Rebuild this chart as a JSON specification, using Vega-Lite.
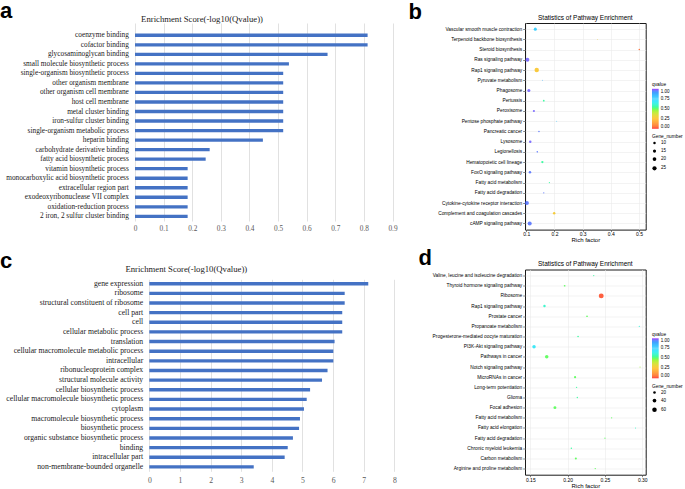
{
  "$schema": "https://vega.github.io/schema/vega-lite/v6.json",
  "padding": 0,
  "background": "white",
  "config": {
    "view": {"stroke": null},
    "axis": {"labelFlush": false, "labelBound": false},
    "legend": {"layout": {"right": {"anchor": "middle", "direction": "vertical", "margin": 5}}}
  },
  "columns": 2,
  "align": "none",
  "spacing": 10,
  "resolve": {"scale": {"color": "independent", "size": "independent"}, "legend": {"color": "independent", "size": "independent"}},
  "concat": [
    {
      "columns": 1,
      "align": "none",
      "spacing": 17.3,
      "concat": [
        {
          "title": {"text": "a", "anchor": "start", "frame": "bounds", "font": "Liberation Sans", "fontSize": 22, "fontWeight": "bold", "baseline": "top", "offset": -8.4, "color": "black"},
          "vconcat": [
            {
              "width": 257.5,
              "height": 198,
              "title": {"text": "Enrichment Score(-log10(Qvalue))", "font": "Liberation Serif", "fontSize": 8.7, "fontWeight": "normal", "color": "#222", "anchor": "middle", "frame": "group", "dx": -61.75, "offset": -9.35, "baseline": "bottom"},
              "data": {"values": [
                {"term": "coenzyme binding", "score": 0.813},
                {"term": "cofactor binding", "score": 0.813},
                {"term": "glycosaminoglycan binding", "score": 0.673},
                {"term": "small molecule biosynthetic process", "score": 0.538},
                {"term": "single-organism biosynthetic process", "score": 0.518},
                {"term": "other organism membrane", "score": 0.518},
                {"term": "other organism cell membrane", "score": 0.518},
                {"term": "host cell membrane", "score": 0.518},
                {"term": "metal cluster binding", "score": 0.518},
                {"term": "iron-sulfur cluster binding", "score": 0.518},
                {"term": "single-organism metabolic process", "score": 0.518},
                {"term": "heparin binding", "score": 0.447},
                {"term": "carbohydrate derivative binding", "score": 0.261},
                {"term": "fatty acid biosynthetic process", "score": 0.247},
                {"term": "vitamin biosynthetic process", "score": 0.184},
                {"term": "monocarboxylic acid biosynthetic process", "score": 0.184},
                {"term": "extracellular region part", "score": 0.184},
                {"term": "exodeoxyribonuclease VII complex", "score": 0.184},
                {"term": "oxidation-reduction process", "score": 0.184},
                {"term": "2 iron, 2 sulfur cluster binding", "score": 0.184}
              ]},
              "mark": {"type": "bar", "color": "#4472c4"},
              "encoding": {
                "y": {"field": "term", "type": "nominal", "sort": null,
                  "scale": {"paddingInner": 0.65, "paddingOuter": 0.713, "align": 0.78},
                  "axis": {"title": null, "ticks": false, "domain": false, "grid": false, "labelFont": "Liberation Serif", "labelFontSize": 7.3, "labelColor": "#1a1a1a", "labelPadding": 6.7, "minExtent": 135, "labelLimit": 0, "labelOverlap": false}},
                "x": {"field": "score", "type": "quantitative",
                  "scale": {"domain": [0, 0.9], "nice": false},
                  "axis": {"title": null, "values": [0, 0.1, 0.2, 0.3, 0.4, 0.5, 0.6, 0.7, 0.8, 0.9], "format": "~g", "ticks": false, "domain": false, "grid": true, "gridColor": "#d9d9d9", "gridWidth": 0.8, "labelFont": "Liberation Serif", "labelFontSize": 7.3, "labelColor": "#595959", "labelPadding": 3.6, "labelOverlap": false}}
              }
            }
          ]
        },
        {
          "title": {"text": "c", "anchor": "start", "frame": "bounds", "font": "Liberation Sans", "fontSize": 22, "fontWeight": "bold", "baseline": "top", "offset": -8.1, "color": "black"},
          "vconcat": [
            {
              "width": 259.3,
              "height": 192,
              "title": {"text": "Enrichment Score(-log10(Qvalue))", "font": "Liberation Serif", "fontSize": 8.7, "fontWeight": "normal", "color": "#222", "anchor": "middle", "frame": "group", "dx": -78.35, "offset": -3.05, "baseline": "bottom"},
              "data": {"values": [
                {"term": "gene expression", "score": 7.15},
                {"term": "ribosome", "score": 6.38},
                {"term": "structural constituent of ribosome", "score": 6.38},
                {"term": "cell part", "score": 6.3},
                {"term": "cell", "score": 6.3},
                {"term": "cellular metabolic process", "score": 6.3},
                {"term": "translation", "score": 6.05},
                {"term": "cellular macromolecule metabolic process", "score": 6.01},
                {"term": "intracellular", "score": 6.01},
                {"term": "ribonucleoprotein complex", "score": 5.82},
                {"term": "structural molecule activity", "score": 5.64},
                {"term": "cellular biosynthetic process", "score": 5.25},
                {"term": "cellular macromolecule biosynthetic process", "score": 5.14},
                {"term": "cytoplasm", "score": 5.05},
                {"term": "macromolecule biosynthetic process", "score": 4.92},
                {"term": "biosynthetic process", "score": 4.89},
                {"term": "organic substance biosynthetic process", "score": 4.69},
                {"term": "binding", "score": 4.52},
                {"term": "intracellular part", "score": 4.42},
                {"term": "non-membrane-bounded organelle", "score": 3.41}
              ]},
              "mark": {"type": "bar", "color": "#4472c4"},
              "encoding": {
                "y": {"field": "term", "type": "nominal", "sort": null,
                  "scale": {"paddingInner": 0.65, "paddingOuter": 0.28},
                  "axis": {"title": null, "ticks": false, "domain": false, "grid": false, "labelFont": "Liberation Serif", "labelFontSize": 7.7, "labelColor": "#1a1a1a", "labelPadding": -7.7, "minExtent": 135, "labelLimit": 0, "labelOverlap": false}},
                "x": {"field": "score", "type": "quantitative",
                  "scale": {"domain": [-0.467, 8], "nice": false, "zero": false},
                  "axis": {"title": null, "values": [0, 1, 2, 3, 4, 5, 6, 7, 8], "format": "d", "ticks": false, "domain": false, "grid": true, "gridColor": "#d9d9d9", "gridWidth": 0.8, "labelFont": "Liberation Serif", "labelFontSize": 7.7, "labelColor": "#595959", "labelPadding": 4.8, "labelOverlap": false}}
              }
            }
          ]
        }
      ]
    },
    {
      "columns": 1,
      "align": "none",
      "spacing": 2.5,
      "resolve": {"scale": {"color": "independent", "size": "independent"}, "legend": {"color": "independent", "size": "independent"}},
      "concat": [
        {
          "title": {"text": "b", "anchor": "start", "frame": "bounds", "font": "Liberation Sans", "fontSize": 22, "fontWeight": "bold", "baseline": "top", "offset": -9.9, "color": "black"},
          "resolve": {"scale": {"color": "independent", "size": "independent"}, "legend": {"color": "independent", "size": "independent"}},
          "vconcat": [
            {
              "width": 120.7,
              "height": 206.6,
              "view": {"stroke": "#1a1a1a", "strokeWidth": 1},
              "title": {"text": "Statistics of Pathway Enrichment", "font": "Liberation Sans", "fontSize": 6.5, "fontWeight": "normal", "color": "black", "anchor": "middle", "frame": "group", "offset": -4.35, "baseline": "bottom"},
              "data": {"values": [
                {"pathway": "Vascular smooth muscle contraction", "rich": 0.132, "qvalue": 0.78, "gene": 14},
                {"pathway": "Terpenoid backbone biosynthesis", "rich": 0.353, "qvalue": 0.3, "gene": 3},
                {"pathway": "Steroid biosynthesis", "rich": 0.501, "qvalue": 0.05, "gene": 5},
                {"pathway": "Ras signaling pathway", "rich": 0.104, "qvalue": 0.97, "gene": 22},
                {"pathway": "Rap1 signaling pathway", "rich": 0.137, "qvalue": 0.27, "gene": 28},
                {"pathway": "Pyruvate metabolism", "rich": 0.157, "qvalue": 0.85, "gene": 3},
                {"pathway": "Phagosome", "rich": 0.109, "qvalue": 0.97, "gene": 14},
                {"pathway": "Pertussis", "rich": 0.162, "qvalue": 0.55, "gene": 6},
                {"pathway": "Peroxisome", "rich": 0.127, "qvalue": 0.97, "gene": 8},
                {"pathway": "Pentose phosphate pathway", "rich": 0.208, "qvalue": 0.8, "gene": 3},
                {"pathway": "Pancreatic cancer", "rich": 0.145, "qvalue": 0.95, "gene": 5},
                {"pathway": "Lysosome", "rich": 0.114, "qvalue": 0.97, "gene": 10},
                {"pathway": "Legionellosis", "rich": 0.139, "qvalue": 0.95, "gene": 5},
                {"pathway": "Hematopoietic cell lineage", "rich": 0.157, "qvalue": 0.55, "gene": 9},
                {"pathway": "FoxO signaling pathway", "rich": 0.113, "qvalue": 0.95, "gene": 10},
                {"pathway": "Fatty acid metabolism", "rich": 0.182, "qvalue": 0.55, "gene": 4},
                {"pathway": "Fatty acid degradation", "rich": 0.162, "qvalue": 0.95, "gene": 4},
                {"pathway": "Cytokine-cytokine receptor interaction", "rich": 0.102, "qvalue": 0.95, "gene": 24},
                {"pathway": "Complement and coagulation cascades", "rich": 0.199, "qvalue": 0.28, "gene": 10},
                {"pathway": "cAMP signaling pathway", "rich": 0.112, "qvalue": 0.95, "gene": 24}
              ]},
              "mark": {"type": "circle", "opacity": 0.75},
              "encoding": {
                "y": {"field": "pathway", "type": "nominal", "sort": null,
                  "scale": {"type": "point", "padding": 0.6},
                  "axis": {"title": null, "grid": true, "gridColor": "#ebebeb", "gridWidth": 0.6, "domain": false, "tickSize": 2.3, "tickColor": "#333", "tickWidth": 0.6, "labelFont": "Liberation Sans", "labelFontSize": 4.8, "labelColor": "black", "labelPadding": 1, "minExtent": 116, "labelLimit": 0, "labelOverlap": false}},
                "x": {"field": "rich", "type": "quantitative",
                  "scale": {"domain": [0.0954, 0.5238], "nice": false, "zero": false},
                  "axis": {"title": "Rich factor", "values": [0.1, 0.2, 0.3, 0.4, 0.5], "format": ".1f", "grid": true, "gridColor": "#ebebeb", "gridWidth": 0.6, "domain": false, "tickSize": 2, "tickColor": "#333", "tickWidth": 0.6, "labelFont": "Liberation Sans", "labelFontSize": 5, "labelColor": "black", "labelPadding": 0.3, "titleFont": "Liberation Sans", "titleFontSize": 6, "titleFontWeight": "normal", "titleColor": "black", "titlePadding": 0}},
                "color": {"field": "qvalue", "type": "quantitative",
                  "scale": {"domain": [0, 0.25, 0.5, 0.75, 1], "range": ["#ff0000", "#ffb300", "#33ff33", "#33ccff", "#8000ff"]},
                  "legend": {"title": "qvalue", "titleFont": "Liberation Sans", "titleFontSize": 4.8, "titleFontWeight": "normal", "titleColor": "black", "titlePadding": 2, "labelFont": "Liberation Sans", "labelFontSize": 4.5, "labelColor": "black", "labelOffset": 2, "gradientLength": 40, "gradientThickness": 6.7, "values": [0, 0.25, 0.5, 0.75, 1], "format": ".2f", "offset": 6, "orient": "right"}},
                "size": {"field": "gene", "type": "quantitative",
                  "scale": {"domain": [3, 28], "range": [0.8, 20], "zero": false},
                  "legend": {"title": "Gene_number", "titleFont": "Liberation Sans", "titleFontSize": 4.8, "titleFontWeight": "normal", "titleColor": "black", "titlePadding": 2, "labelFont": "Liberation Sans", "labelFontSize": 4.5, "labelColor": "black", "values": [10, 15, 20, 25], "symbolFillColor": "black", "symbolStrokeWidth": 0, "symbolOpacity": 1, "symbolType": "circle", "rowPadding": 3, "offset": 6, "orient": "right"}}
              }
            }
          ]
        },
        {
          "title": {"text": "d", "anchor": "start", "frame": "bounds", "font": "Liberation Sans", "fontSize": 22, "fontWeight": "bold", "baseline": "top", "offset": -9.9, "dx": 10, "color": "black"},
          "resolve": {"scale": {"color": "independent", "size": "independent"}, "legend": {"color": "independent", "size": "independent"}},
          "vconcat": [
            {
              "width": 120.7,
              "height": 205.2,
              "view": {"stroke": "#1a1a1a", "strokeWidth": 1},
              "title": {"text": "Statistics of Pathway Enrichment", "font": "Liberation Sans", "fontSize": 6.5, "fontWeight": "normal", "color": "black", "anchor": "middle", "frame": "group", "offset": -3.75, "baseline": "bottom"},
              "data": {"values": [
                {"pathway": "Valine, leucine and isoleucine degradation", "rich": 0.235, "qvalue": 0.55, "gene": 5},
                {"pathway": "Thyroid hormone signaling pathway", "rich": 0.196, "qvalue": 0.5, "gene": 9},
                {"pathway": "Ribosome", "rich": 0.245, "qvalue": 0.02, "gene": 70},
                {"pathway": "Rap1 signaling pathway", "rich": 0.169, "qvalue": 0.6, "gene": 18},
                {"pathway": "Prostate cancer", "rich": 0.226, "qvalue": 0.5, "gene": 9},
                {"pathway": "Propanoate metabolism", "rich": 0.296, "qvalue": 0.62, "gene": 4},
                {"pathway": "Progesterone-mediated oocyte maturation", "rich": 0.214, "qvalue": 0.55, "gene": 8},
                {"pathway": "PI3K-Akt signaling pathway", "rich": 0.155, "qvalue": 0.68, "gene": 35},
                {"pathway": "Pathways in cancer", "rich": 0.172, "qvalue": 0.5, "gene": 36},
                {"pathway": "Notch signaling pathway", "rich": 0.297, "qvalue": 0.45, "gene": 4},
                {"pathway": "MicroRNAs in cancer", "rich": 0.21, "qvalue": 0.5, "gene": 14},
                {"pathway": "Long-term potentiation", "rich": 0.212, "qvalue": 0.55, "gene": 6},
                {"pathway": "Glioma", "rich": 0.213, "qvalue": 0.55, "gene": 6},
                {"pathway": "Focal adhesion", "rich": 0.183, "qvalue": 0.5, "gene": 25},
                {"pathway": "Fatty acid metabolism", "rich": 0.259, "qvalue": 0.5, "gene": 5},
                {"pathway": "Fatty acid elongation", "rich": 0.291, "qvalue": 0.6, "gene": 4},
                {"pathway": "Fatty acid degradation", "rich": 0.25, "qvalue": 0.5, "gene": 5},
                {"pathway": "Chronic myeloid leukemia", "rich": 0.205, "qvalue": 0.55, "gene": 7},
                {"pathway": "Carbon metabolism", "rich": 0.211, "qvalue": 0.5, "gene": 13},
                {"pathway": "Arginine and proline metabolism", "rich": 0.237, "qvalue": 0.5, "gene": 6}
              ]},
              "mark": {"type": "circle", "opacity": 0.75},
              "encoding": {
                "y": {"field": "pathway", "type": "nominal", "sort": null,
                  "scale": {"type": "point", "padding": 0.6},
                  "axis": {"title": null, "grid": true, "gridColor": "#ebebeb", "gridWidth": 0.6, "domain": false, "tickSize": 2.3, "tickColor": "#333", "tickWidth": 0.6, "labelFont": "Liberation Sans", "labelFontSize": 4.8, "labelColor": "black", "labelPadding": 1, "minExtent": 116, "labelLimit": 0, "labelOverlap": false}},
                "x": {"field": "rich", "type": "quantitative",
                  "scale": {"domain": [0.1429, 0.3046], "nice": false, "zero": false},
                  "axis": {"title": "Rich factor", "values": [0.15, 0.2, 0.25, 0.3], "format": ".2f", "grid": true, "gridColor": "#ebebeb", "gridWidth": 0.6, "domain": false, "tickSize": 2, "tickColor": "#333", "tickWidth": 0.6, "labelFont": "Liberation Sans", "labelFontSize": 5, "labelColor": "black", "labelPadding": 0.5, "titleFont": "Liberation Sans", "titleFontSize": 6, "titleFontWeight": "normal", "titleColor": "black", "titlePadding": 0}},
                "color": {"field": "qvalue", "type": "quantitative",
                  "scale": {"domain": [0, 0.25, 0.5, 0.75, 1], "range": ["#ff0000", "#ffb300", "#33ff33", "#33ccff", "#8000ff"]},
                  "legend": {"title": "qvalue", "titleFont": "Liberation Sans", "titleFontSize": 4.8, "titleFontWeight": "normal", "titleColor": "black", "titlePadding": 2, "labelFont": "Liberation Sans", "labelFontSize": 4.5, "labelColor": "black", "labelOffset": 2, "gradientLength": 40, "gradientThickness": 6.7, "values": [0, 0.25, 0.5, 0.75, 1], "format": ".2f", "offset": 6, "orient": "right"}},
                "size": {"field": "gene", "type": "quantitative",
                  "scale": {"domain": [3, 70], "range": [0.8, 24], "zero": false},
                  "legend": {"title": "Gene_number", "titleFont": "Liberation Sans", "titleFontSize": 4.8, "titleFontWeight": "normal", "titleColor": "black", "titlePadding": 2, "labelFont": "Liberation Sans", "labelFontSize": 4.5, "labelColor": "black", "values": [20, 40, 60], "symbolFillColor": "black", "symbolStrokeWidth": 0, "symbolOpacity": 1, "symbolType": "circle", "rowPadding": 3, "offset": 6, "orient": "right"}}
              }
            }
          ]
        }
      ]
    }
  ]
}
